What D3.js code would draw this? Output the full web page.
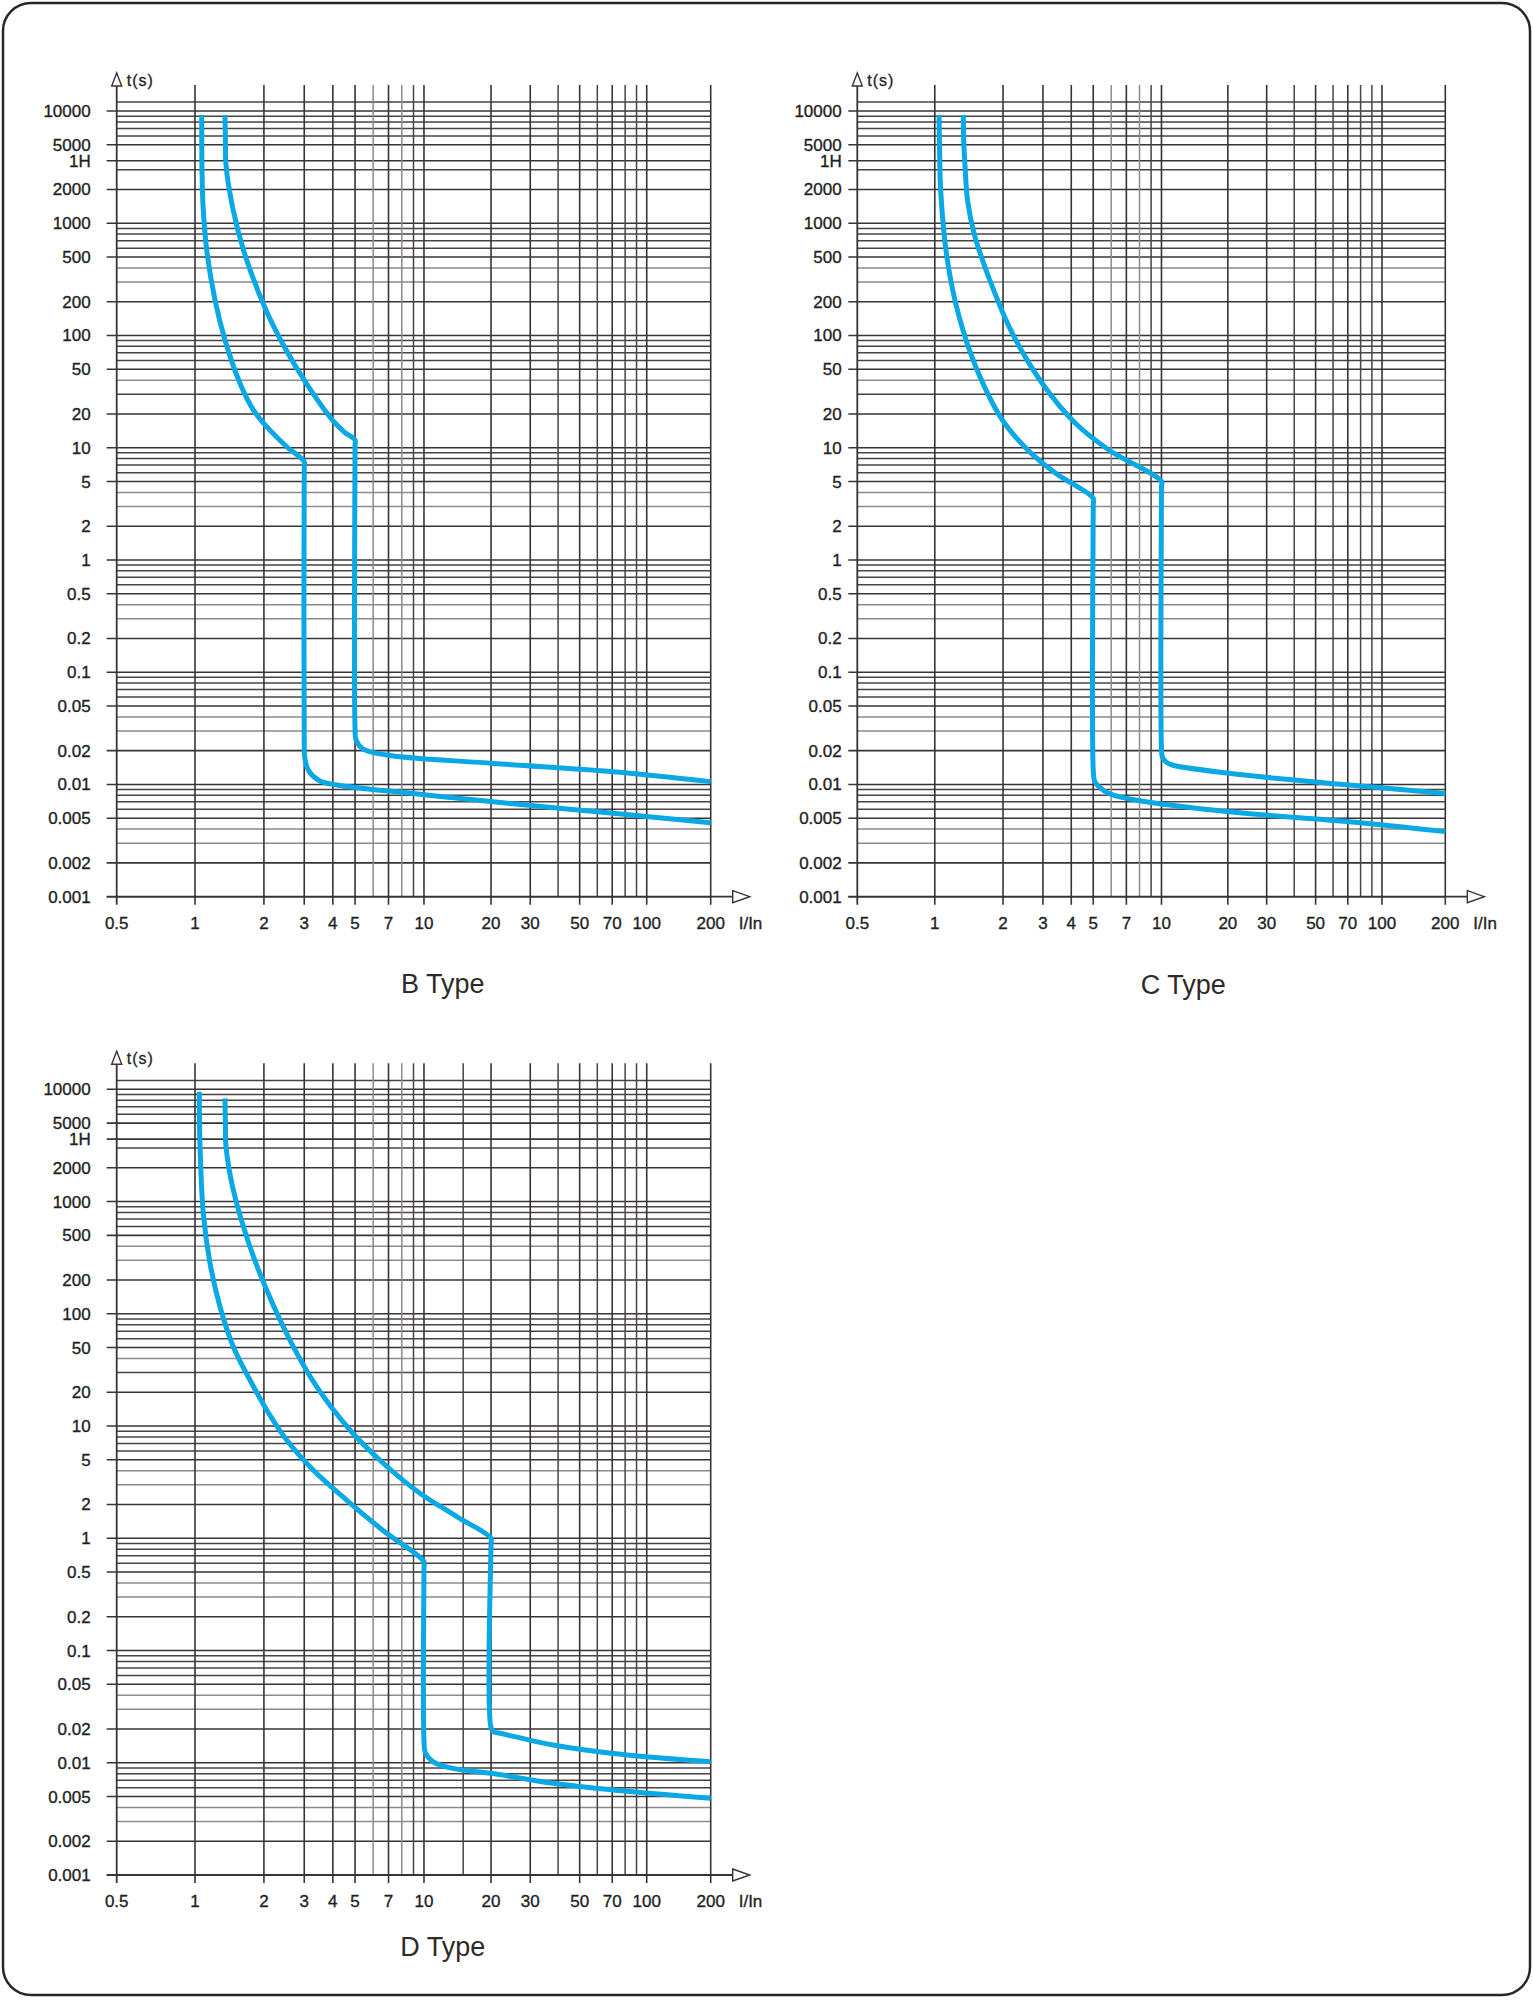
<!DOCTYPE html>
<html>
<head>
<meta charset="utf-8">
<script src="https://cdn.jsdelivr.net/npm/d3@7"></script>
<style>
  html, body { margin: 0; padding: 0; background: #ffffff; }
  svg { display: block; }
  text { font-family: "Liberation Sans", Arial, Helvetica, sans-serif; fill: #231f1f; }
</style>
</head>
<body>
<svg id="chart" width="1533" height="2000"></svg>
<script>
// ---------------- DATA ----------------
const xTickValues = [0.5, 1, 2, 3, 4, 5, 7, 10, 20, 30, 50, 70, 100, 200];
const xTickLabels = ["0.5", "1", "2", "3", "4", "5", "7", "10", "20", "30", "50", "70", "100", "200"];
const xMinorValues = [6, 8, 9, 40, 60, 80, 90];
const xMinorValuesD = [6, 8, 9, 15, 40, 60, 80, 90];

const yTickValues = [10000, 5000, 3600, 2000, 1000, 500, 200, 100, 50, 20, 10, 5, 2, 1,
                     0.5, 0.2, 0.1, 0.05, 0.02, 0.01, 0.005, 0.002, 0.001];
const yTickLabels = ["10000", "5000", "1H", "2000", "1000", "500", "200", "100", "50", "20", "10", "5", "2", "1",
                     "0.5", "0.2", "0.1", "0.05", "0.02", "0.01", "0.005", "0.002", "0.001"];
const yMinorValues = [12000, 9000, 8000, 7000, 6000, 3000,
  900, 800, 700, 600, 400, 300,
  90, 80, 70, 60, 40, 30,
  9, 8, 7, 6, 4, 3,
  0.9, 0.8, 0.7, 0.6, 0.4, 0.3,
  0.09, 0.08, 0.07, 0.06, 0.04, 0.03,
  0.009, 0.008, 0.007, 0.006, 0.004, 0.003];
const yLightValues = [400, 300, 40, 4, 3, 0.4, 0.3, 0.04, 0.03, 0.004, 0.003];

const panelTitles = ["B Type", "C Type", "D Type"];
const yAxisLabel = "t(s)";
const xAxisLabel = "I/In";

// curves: [I/In, t(s)]
const bLower = [[1.070, 9200], [1.073, 2980], [1.084, 1454], [1.125, 578], [1.223, 207], [1.352, 91],
  [1.572, 37.5], [1.797, 21.7], [2.056, 15.4], [2.515, 10.2], [3.0, 7.5], [3.0, 6.6],
  [3.0, 0.022], [3.02, 0.017], [3.12, 0.0135], [3.5, 0.0108], [4.16, 0.0099], [8.97, 0.0083],
  [20.5, 0.0070], [70.8, 0.00553], [200, 0.00456]];
const bUpper = [[1.352, 9200], [1.358, 5500], [1.366, 3300], [1.468, 1312], [1.643, 543], [2.041, 169],
  [2.459, 79], [3.0, 40], [3.976, 17.7], [4.489, 13.8], [5.0, 11.7], [5.0, 10.5],
  [5.0, 0.032], [5.05, 0.025], [5.4, 0.0208], [6.87, 0.0183], [20.5, 0.0154], [70.8, 0.013], [200, 0.0106]];
const cLower = [[1.044, 9200], [1.05, 4500], [1.063, 1850], [1.136, 470], [1.28, 147], [1.516, 52.7],
  [1.985, 17.7], [2.57, 9.55], [3.415, 5.92], [5.0, 3.54], [5.0, 3.1],
  [5.0, 0.0135], [5.07, 0.0107], [5.29, 0.0096], [5.86, 0.0083], [7.69, 0.00727],
  [20.2, 0.00571], [71, 0.00466], [200, 0.0038]];
const cUpper = [[1.337, 9200], [1.341, 5500], [1.36, 3190], [1.394, 1612], [1.49, 813], [1.793, 272],
  [2.198, 104.5], [2.977, 37.5], [4.173, 16.5], [5.86, 9.55], [10, 5.0], [10, 4.4],
  [10, 0.021], [10.1, 0.0175], [10.5, 0.0158], [11.2, 0.0149], [20.2, 0.01256], [71, 0.0099], [200, 0.0083]];
const dLower = [[1.044, 9500], [1.046, 5300], [1.052, 3080], [1.087, 785], [1.163, 282], [1.286, 115.6],
  [1.47, 50.9], [1.738, 25.7], [2.056, 13.9], [2.515, 7.5], [3.28, 4.06], [4.59, 2.19], [6.67, 1.16],
  [10, 0.618], [10, 0.55],
  [10, 0.016], [10.15, 0.0122], [11.0, 0.0102], [13.5, 0.0089], [20, 0.00805], [38, 0.00656],
  [70.8, 0.00571], [200, 0.00482]];
const dUpper = [[1.352, 8300], [1.358, 4800], [1.366, 3080], [1.47, 1268], [1.738, 396], [2.056, 163],
  [2.688, 50.9], [3.398, 22.4], [4.75, 9.22], [6.64, 4.66], [9.6, 2.52], [14.03, 1.56], [20, 1.0], [20, 0.9],
  [20, 0.0205], [20.6, 0.0188], [21.95, 0.0183], [38, 0.0144], [70.8, 0.0121], [154, 0.01057], [200, 0.0102]];

// ---------------- LAYOUT ----------------
const svg = d3.select("#chart");
const DARK = "#3a3333", MID = "#4a4343", LIGHT = "#8f8989";
const CURVE = "#0aa8e4";
const xFrac = [0, 0.1318, 0.5173, 0.8923, 1];
const xAnchors = [0.5, 1, 10, 100, 200];

// outer frame
svg.append("rect").attr("x", 3).attr("y", 3).attr("width", 1527).attr("height", 1992)
  .attr("rx", 28).attr("ry", 28).attr("fill", "none").attr("stroke", "#2b2626").attr("stroke-width", 2.5);

const panels = [
  { title: panelTitles[0], ox: 116.7, oy: 111, w: 594, labelGap: 26, tickLen: 10, titleY: 993, lower: bLower, upper: bUpper, minors: xMinorValues },
  { title: panelTitles[1], ox: 857.3, oy: 111, w: 588, labelGap: 15.6, tickLen: 9, titleY: 994, lower: cLower, upper: cUpper, minors: xMinorValues },
  { title: panelTitles[2], ox: 116.7, oy: 1089.3, w: 594, labelGap: 26, tickLen: 10, titleY: 1956, lower: dLower, upper: dUpper, minors: xMinorValuesD }
];

panels.forEach(p => {
  const g = svg.append("g");
  const x = d3.scaleLog().domain(xAnchors).range(xFrac.map(f => p.ox + f * p.w));
  const y = d3.scaleLog().domain([10000, 0.001]).range([p.oy, p.oy + 785.7]);
  const x0 = x(0.5), x1 = x(200), yb = y(0.001), yTop = p.oy - 26;

  // horizontal minor gridlines
  g.selectAll(".hmin").data(yMinorValues).join("line")
    .attr("x1", x0).attr("x2", x1)
    .attr("y1", d => y(d)).attr("y2", d => y(d))
    .attr("stroke", d => yLightValues.some(v => Math.abs(v - d) / v < 1e-6) ? LIGHT : MID)
    .attr("stroke-width", 1.5);
  // horizontal labelled gridlines (with ticks)
  g.selectAll(".hmaj").data(yTickValues).join("line")
    .attr("x1", x0 - p.tickLen).attr("x2", x1)
    .attr("y1", d => y(d)).attr("y2", d => y(d))
    .attr("stroke", DARK).attr("stroke-width", 1.6);

  // vertical minor gridlines
  g.selectAll(".vmin").data(p.minors).join("line")
    .attr("x1", d => x(d)).attr("x2", d => x(d))
    .attr("y1", yTop).attr("y2", yb)
    .attr("stroke", d => (d === 6 || d === 8) ? LIGHT : MID).attr("stroke-width", 1.5);
  // vertical labelled gridlines
  g.selectAll(".vmaj").data(xTickValues.slice(1)).join("line")
    .attr("x1", d => x(d)).attr("x2", d => x(d))
    .attr("y1", yTop).attr("y2", yb + 8)
    .attr("stroke", DARK).attr("stroke-width", 1.6);

  // axes
  g.append("line").attr("x1", x0).attr("x2", x0).attr("y1", p.oy - 25).attr("y2", yb + 8)
    .attr("stroke", DARK).attr("stroke-width", 1.8);
  g.append("line").attr("x1", x0 - p.tickLen).attr("x2", x1 + 22).attr("y1", yb).attr("y2", yb)
    .attr("stroke", DARK).attr("stroke-width", 1.8);
  // arrows (hollow triangles)
  g.append("path")
    .attr("d", `M${x0 - 5},${p.oy - 25} L${x0},${p.oy - 38} L${x0 + 5},${p.oy - 25} Z`)
    .attr("fill", "#fff").attr("stroke", DARK).attr("stroke-width", 1.4);
  g.append("path")
    .attr("d", `M${x1 + 22},${yb - 6} L${x1 + 39},${yb} L${x1 + 22},${yb + 6} Z`)
    .attr("fill", "#fff").attr("stroke", DARK).attr("stroke-width", 1.4);

  // y tick labels
  g.selectAll(".ylab").data(yTickValues).join("text")
    .attr("x", x0 - p.labelGap).attr("y", d => y(d) + 6)
    .attr("text-anchor", "end").attr("font-size", 17)
    .attr("stroke", "#231f1f").attr("stroke-width", 0.35)
    .text((d, i) => yTickLabels[i]);
  // x tick labels
  g.selectAll(".xlab").data(xTickValues).join("text")
    .attr("x", d => x(d)).attr("y", yb + 32)
    .attr("text-anchor", "middle").attr("font-size", 17)
    .attr("stroke", "#231f1f").attr("stroke-width", 0.35)
    .text((d, i) => xTickLabels[i]);

  // axis titles
  g.append("text").attr("x", x0 + 10).attr("y", p.oy - 25).attr("font-size", 16)
    .attr("letter-spacing", 1).attr("stroke", "#231f1f").attr("stroke-width", 0.3).text(yAxisLabel);
  g.append("text").attr("x", x1 + 28).attr("y", yb + 32).attr("font-size", 17)
    .attr("stroke", "#231f1f").attr("stroke-width", 0.35).text(xAxisLabel);

  // panel title
  g.append("text").attr("x", p.ox + 326).attr("y", p.titleY).attr("text-anchor", "middle")
    .attr("font-size", 27).style("fill", "#2e2a2a").text(p.title);

  // curves
  const line = d3.line().x(d => x(d[0])).y(d => y(d[1])).curve(d3.curveCatmullRom.alpha(0.5));
  [p.lower, p.upper].forEach(series => {
    g.append("path").datum(series).attr("d", line)
      .attr("fill", "none").attr("stroke", CURVE).attr("stroke-width", 5)
      .attr("stroke-linejoin", "round").attr("stroke-linecap", "butt");
  });
});
</script>
</body>
</html>
